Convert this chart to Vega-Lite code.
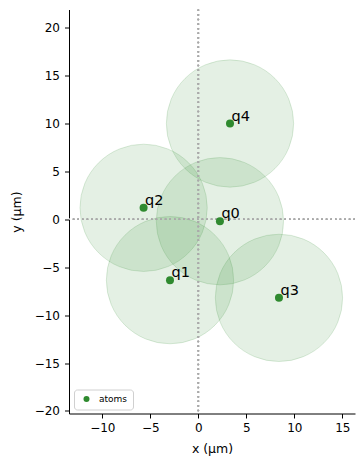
{
  "$schema": "https://vega.github.io/schema/vega-lite/v6.json",
  "autosize": {"type": "none"},
  "width": 286,
  "height": 404,
  "padding": {"left": 69, "top": 9.5, "right": 9, "bottom": 52.5},
  "background": "white",
  "config": {
    "view": {"stroke": null},
    "font": "DejaVu Sans",
    "axis": {
      "grid": false,
      "domainColor": "black",
      "tickColor": "black",
      "tickSize": 4.5,
      "labelColor": "black",
      "labelFontSize": 12,
      "labelFont": "DejaVu Sans",
      "titleFont": "DejaVu Sans",
      "titleFontSize": 12.5,
      "titleFontWeight": "normal",
      "titleColor": "black"
    }
  },
  "data": {
    "values": [
      {"name": "q0", "x": 2.25, "y": -0.2},
      {"name": "q1", "x": -2.95, "y": -6.35},
      {"name": "q2", "x": -5.7, "y": 1.2},
      {"name": "q3", "x": 8.4, "y": -8.2},
      {"name": "q4", "x": 3.3, "y": 10.0}
    ]
  },
  "encoding": {
    "x": {"field": "x", "type": "quantitative", "scale": {"domain": [-13.47, 16.32], "nice": false, "zero": false},
      "axis": {"values": [-10, -5, 0, 5, 10, 15], "title": "x (µm)", "titlePadding": 9, "labelPadding": 4}},
    "y": {"field": "y", "type": "quantitative", "scale": {"domain": [-20.27, 21.9], "nice": false, "zero": false},
      "axis": {"values": [-20, -15, -10, -5, 0, 5, 10, 15, 20], "title": "y (µm)", "titlePadding": 11, "labelPadding": 5}}
  },
  "layer": [
    {
      "mark": {"type": "point", "shape": "circle", "filled": true, "size": 16200, "fill": "#2e8b2e", "fillOpacity": 0.13, "stroke": "#2e8b2e", "strokeOpacity": 0.16, "strokeWidth": 1}
    },
    {
      "mark": {"type": "rule", "color": "#aaaaaa", "strokeDash": [1.6, 3], "strokeWidth": 1.6, "opacity": 1},
      "encoding": {"x": {"datum": 0}, "y": null}
    },
    {
      "mark": {"type": "rule", "color": "#aaaaaa", "strokeDash": [1.6, 3], "strokeWidth": 1.6, "opacity": 1},
      "encoding": {"y": {"datum": 0}, "x": null}
    },
    {
      "mark": {"type": "point", "shape": "circle", "filled": true, "size": 64, "opacity": 1},
      "encoding": {
        "color": {"datum": "atoms", "type": "nominal", "scale": {"range": ["#2f8a2f"]},
          "legend": {"title": null, "orient": "none", "legendX": 5, "legendY": 380, "padding": 5, "fillColor": "white", "strokeColor": "#d0d0d0", "cornerRadius": 3, "labelFontSize": 9, "labelFont": "DejaVu Sans", "labelColor": "black", "symbolSize": 36, "symbolType": "circle", "symbolOffset": 3, "labelOffset": 8}}
      }
    },
    {
      "mark": {"type": "text", "align": "left", "baseline": "alphabetic", "dx": 1.5, "dy": -3, "fontSize": 14.5, "font": "DejaVu Sans", "color": "black"},
      "encoding": {"text": {"field": "name"}}
    }
  ]
}
